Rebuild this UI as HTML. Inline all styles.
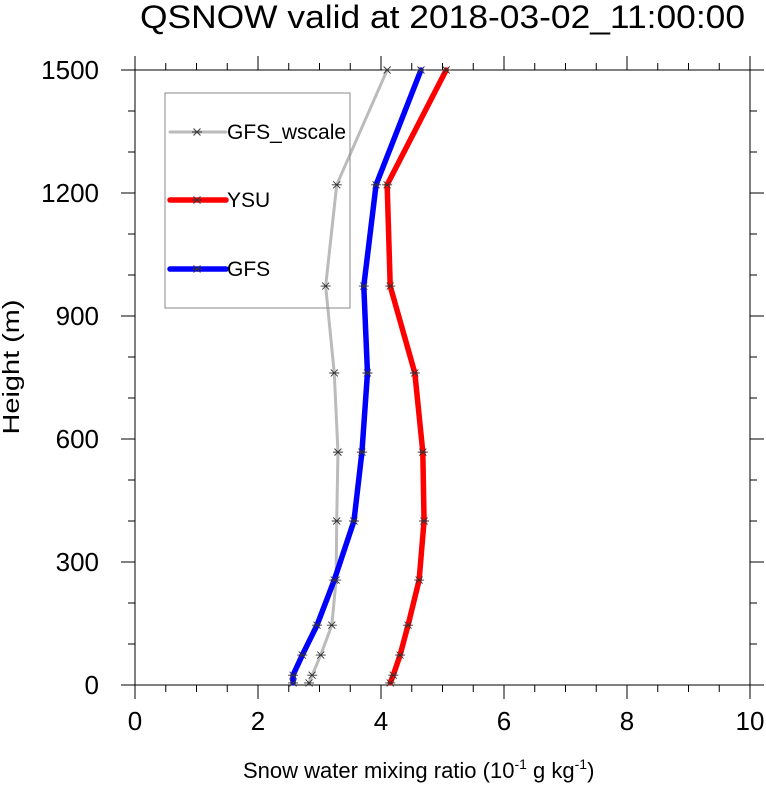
<!DOCTYPE html>
<html><head><meta charset="utf-8"><style>
body{margin:0;background:#fff;}
svg text{font-family:"Liberation Sans",sans-serif;fill:#000;}
</style></head><body>
<svg width="766" height="784" xmlns="http://www.w3.org/2000/svg">
<text x="140" y="28" font-size="32" textLength="605" lengthAdjust="spacingAndGlyphs">QSNOW valid at 2018-03-02_11:00:00</text>
<g id="axes"></g>
<g id="series"></g>
<g id="legend">
<rect x="165" y="93" width="185" height="215" fill="none" stroke="#888" stroke-width="1"/>
</g>
<text x="243" y="778" font-size="22">Snow water mixing ratio (10<tspan font-size="14" dy="-9">-1</tspan><tspan dy="9"> g kg</tspan><tspan font-size="14" dy="-9">-1</tspan><tspan dy="9">)</tspan></text>
<text transform="translate(19,367) rotate(-90)" font-size="23" text-anchor="middle" textLength="135" lengthAdjust="spacingAndGlyphs">Height (m)</text>
</svg>
<script>
const heights=[5,24,73,146,256,400,568,761,973,1220,1500];
const gfsWscale=[2.83,2.88,3.02,3.2,3.27,3.28,3.3,3.24,3.1,3.28,4.1];
const ysu=[4.15,4.2,4.31,4.44,4.62,4.7,4.68,4.55,4.15,4.1,5.06];
const gfs=[2.57,2.57,2.72,2.96,3.24,3.56,3.69,3.78,3.72,3.92,4.65];
const xTicks=[0,2,4,6,8,10];
const yTicks=[0,300,600,900,1200,1500];
const X0=135,X1=750,Y0=685,Y1=70;
const xs=v=>X0+(v/10)*(X1-X0);
const ys=v=>Y0-(v/1500)*(Y0-Y1);
const NS="http://www.w3.org/2000/svg";
function mk(tag,attrs,parent){const e=document.createElementNS(NS,tag);for(const k in attrs)e.setAttribute(k,attrs[k]);parent.appendChild(e);return e;}
const ax=document.getElementById('axes');
const frame=mk('rect',{x:X0,y:Y1,width:X1-X0,height:Y0-Y1,fill:'none',stroke:'#000','stroke-width':1},ax);


for(let v=0;v<=10.001;v+=0.5){
 const major=Math.abs(v/2-Math.round(v/2))<1e-6;const L=major?14:7;const x=xs(v);
 const t1=mk('line',{x1:x,x2:x,y1:Y0,y2:Y0+L,stroke:'#000'},ax);
 
 
 const t2=mk('line',{x1:x,x2:x,y1:Y1,y2:Y1-L,stroke:'#000'},ax);
 
 
}
for(let v=0;v<=1500;v+=100){
 const major=v%300===0;const L=major?14:7;const y=ys(v);
 const t1=mk('line',{x1:X0,x2:X0-L,y1:y,y2:y,stroke:'#000'},ax);
 
 
 const t2=mk('line',{x1:X1,x2:X1+L,y1:y,y2:y,stroke:'#000'},ax);
 
 
}
xTicks.forEach(v=>{const t=mk('text',{x:xs(v),y:Y0+45,'font-size':26,'text-anchor':'middle'},ax);t.textContent=v;
 
 });
yTicks.forEach(v=>{const t=mk('text',{x:X0-36,y:ys(v)+9,'font-size':26,'text-anchor':'end'},ax);t.textContent=v;
 
 });
function star(g,x,y){const s=5;const p=mk('path',{d:`M${x-s} ${y}H${x+s}M${x-s*0.7} ${y-s*0.7}L${x+s*0.7} ${y+s*0.7}M${x-s*0.7} ${y+s*0.7}L${x+s*0.7} ${y-s*0.7}`,stroke:'#333','stroke-width':0.9,fill:'none'},g);
 
 }
const sg=document.getElementById('series');
const series=[[gfsWscale,'#bbbbbb',3,'gfs-wscale'],[ysu,'#ff0000',5.5,'ysu'],[gfs,'#0000ff',5.5,'gfs']];
series.forEach(([vals,col,w,name])=>{
 const g=mk('g',{},sg);
 
 
 const pts=vals.map((v,i)=>xs(v)+','+ys(heights[i])).join(' ');
 const l=mk('polyline',{points:pts,fill:'none',stroke:col,'stroke-width':w,'stroke-linejoin':'round','stroke-linecap':'round'},g);
 
 
 vals.forEach((v,i)=>star(g,xs(v),ys(heights[i])));
});
const lg=document.getElementById('legend');
[['GFS_wscale','#bbbbbb',3,132],['YSU','#ff0000',5.5,200],['GFS','#0000ff',5.5,269]].forEach(([lab,col,w,y])=>{
 const g=mk('g',{},lg);
 
 
 mk('line',{x1:170,x2:226,y1:y,y2:y,stroke:col,'stroke-width':w,'stroke-linecap':'round'},g);
 star(g,197,y);
 const t=mk('text',{x:227,y:y+7,'font-size':21},g);t.textContent=lab;
 
 
});
</script>
</body></html>
